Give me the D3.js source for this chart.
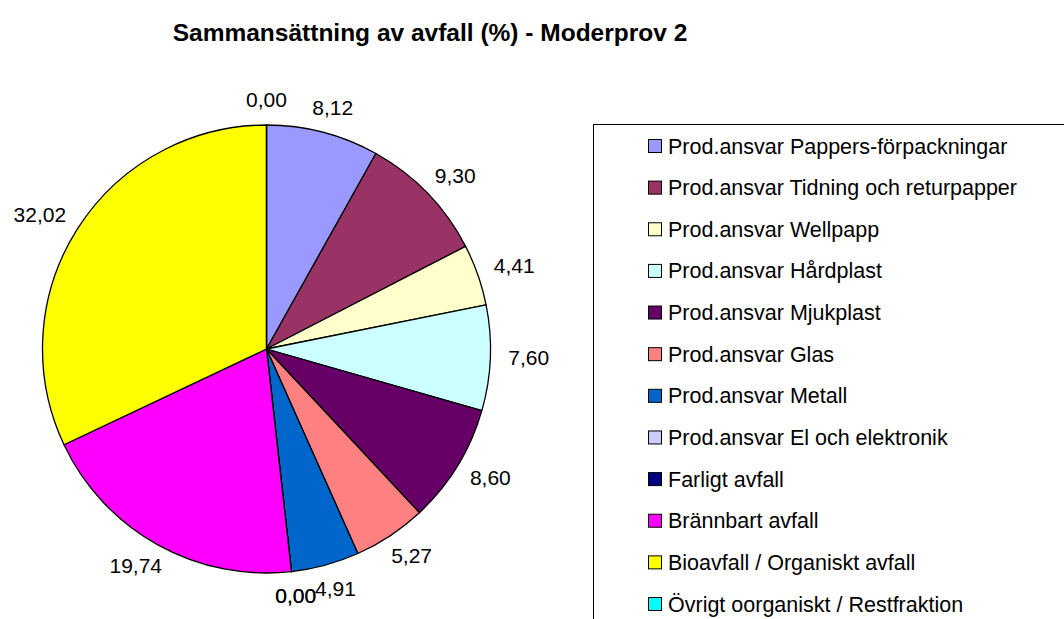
<!DOCTYPE html>
<html><head><meta charset="utf-8">
<script src="https://cdn.jsdelivr.net/npm/d3@7"></script>
<style>body{margin:0;background:#fff}svg{display:block}text{font-family:"Liberation Sans",Arial,sans-serif}</style>
</head><body>
<svg id="c" width="1064" height="619"></svg>
<script>
const categories = [
  "Prod.ansvar Pappers-förpackningar",
  "Prod.ansvar Tidning och returpapper",
  "Prod.ansvar Wellpapp",
  "Prod.ansvar Hårdplast",
  "Prod.ansvar Mjukplast",
  "Prod.ansvar Glas",
  "Prod.ansvar Metall",
  "Prod.ansvar El och elektronik",
  "Farligt avfall",
  "Brännbart avfall",
  "Bioavfall / Organiskt avfall",
  "Övrigt oorganiskt / Restfraktion"
];
const values = [8.12, 9.30, 4.41, 7.60, 8.60, 5.27, 4.91, 0.00, 0.00, 19.74, 32.02, 0.00];
const colors = ["#9999FF","#993366","#FFFFCC","#CCFFFF","#660066","#FF8080","#0066CC","#CCCCFF","#000080","#FF00FF","#FFFF00","#00FFFF"];
const title = "Sammansättning av avfall (%) - Moderprov 2";

const svg = d3.select("#c");
const cx = 266.5, cy = 349, r = 224;

svg.append("text").attr("x", 430).attr("y", 41).attr("text-anchor","middle")
  .attr("font-size", 24.5).attr("font-weight","bold").text(title);

const pie = d3.pie().sort(null).value(d => d)(values);
const arc = d3.arc().innerRadius(0).outerRadius(r);
const g = svg.append("g").attr("transform", `translate(${cx},${cy})`);
g.selectAll("path").data(pie).join("path")
  .attr("d", arc).attr("fill", (d,i) => colors[i])
  .attr("stroke", "#000").attr("stroke-width", 1.3).attr("stroke-linejoin","round");

const fmt = v => d3.format(".2f")(v).replace(".", ",");
const gap = 18, halfH = 7;
pie.forEach((d,i) => {
  const a = (d.startAngle + d.endAngle)/2;
  const dx = Math.sin(a), dy = -Math.cos(a);
  const t = g.append("text").attr("font-size", 21).attr("text-anchor","middle").text(fmt(values[i]));
  const w = t.node().getBBox().width;
  const px = dx*(r+gap) + dx*w/2;
  const py = dy*(r+gap) + dy*halfH;
  t.attr("x", px).attr("y", py + 6.5);
});

// legend
const lg = svg.append("g");
lg.append("rect").attr("x", 593.5).attr("y", 124.5).attr("width", 600).attr("height", 600)
  .attr("fill","#fff").attr("stroke","#000").attr("stroke-width",1);
const ly = d3.scalePoint().domain(categories).range([146, 604]);
categories.forEach((c,i) => {
  const y = ly(c);
  lg.append("rect").attr("x", 648.5).attr("y", y-6.5).attr("width", 13).attr("height", 13)
    .attr("fill", colors[i]).attr("stroke","#000").attr("stroke-width",1);
  lg.append("text").attr("x", 668).attr("y", y+7.5).attr("font-size", 21.5).text(c);
});
</script>
</body></html>
